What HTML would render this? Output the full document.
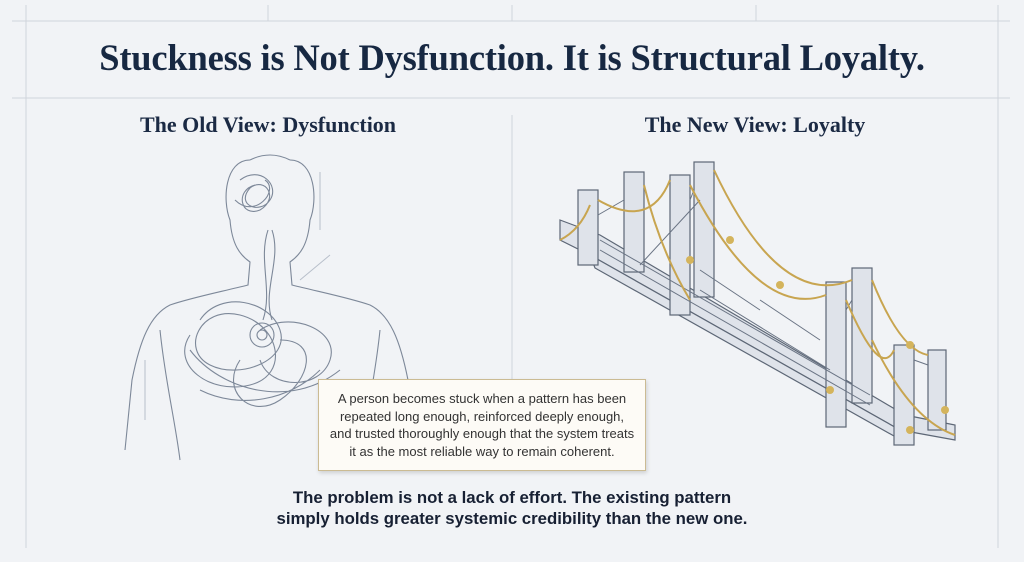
<!DOCTYPE html>
<html><head><meta charset="utf-8"><style>
body{margin:0;width:1024px;height:562px;background:#f1f3f6;position:relative;overflow:hidden;font-family:"Liberation Sans",sans-serif}
.t{position:absolute;left:0;width:1024px;text-align:center;color:#1b2a44}
h1{position:absolute;top:36px;left:0;width:1024px;margin:0;text-align:center;font:bold 36.5px "Liberation Serif",serif;color:#172842;letter-spacing:-0.2px}
.sub{position:absolute;top:112px;font:bold 22px "Liberation Serif",serif;color:#1b2a44;text-align:center;width:400px}
.box{position:absolute;left:318px;top:379px;width:328px;height:92px;background:#fdfbf6;border:1.5px solid #cbbb93;box-shadow:1px 2px 4px rgba(0,0,0,.15);font-size:13px;line-height:17.5px;color:#333;text-align:center;box-sizing:border-box;padding-top:10px}
.bot{top:487px;font-weight:bold;font-size:16.8px;line-height:21px;color:#172033}
</style></head><body>
<svg width="1024" height="562" style="position:absolute;left:0;top:0">
<g stroke="#cfd4dc" stroke-width="1" fill="none">
<line x1="12" y1="21" x2="1010" y2="21"/><line x1="12" y1="98" x2="1010" y2="98"/>
<line x1="26" y1="5" x2="26" y2="548"/><line x1="998" y1="5" x2="998" y2="548"/>
<line x1="268" y1="5" x2="268" y2="21"/><line x1="512" y1="5" x2="512" y2="21"/><line x1="756" y1="5" x2="756" y2="21"/>
<line x1="512" y1="115" x2="512" y2="380"/>
</g>
<g stroke="#7d8899" stroke-width="1.1" fill="none">
<path d="M250 160 C225 160 222 200 230 220 C232 245 240 255 250 262 L248 285 C220 292 190 298 170 305 C150 315 140 340 132 380 L125 450 M290 160 C315 160 318 200 310 220 C308 245 300 255 290 262 L292 285 C320 292 350 298 370 305 C390 315 400 340 408 380 L415 450"/>
<path d="M250 160 Q270 150 290 160"/>
<path d="M160 330 C165 380 175 420 180 460 M380 330 C375 380 365 420 360 460"/>
<path d="M240 180 c20 -15 40 5 30 20 c-10 15 -35 5 -20 -12 c15 -12 30 10 10 22 c-20 8 -25 -20 -5 -25 M235 200 c20 20 45 -10 30 -20"/>
<path d="M200 320 c20 -30 70 -20 80 10 c10 30 -40 50 -70 35 c-30 -15 -10 -60 30 -50 c40 10 50 60 10 70 c-40 10 -80 -20 -60 -50 M260 330 c30 -20 80 0 70 30 c-10 30 -60 30 -70 0 M240 360 c-20 30 10 60 40 40 c30 -20 40 -60 0 -60 M200 390 c40 20 90 10 120 -20 M190 350 c30 40 100 60 150 20"/>
<circle cx="262" cy="335" r="12"/><circle cx="262" cy="335" r="5"/>
<path d="M268 230 c-10 30 5 60 -5 90 M272 230 c10 30 -10 60 0 90"/>
</g>
<g stroke="#b8bfca" stroke-width="1" fill="none"><line x1="320" y1="172" x2="320" y2="230"/><line x1="145" y1="360" x2="145" y2="420"/><line x1="300" y1="280" x2="330" y2="255"/></g>
<g fill="#dfe3ea" stroke="#5d6776" stroke-width="1.2">
<polygon points="560,220 600,235 905,415 955,425 955,440 900,430 590,255 560,240"/>
<polygon points="590,255 900,430 910,445 595,268"/>
<rect x="578" y="190" width="20" height="75"/><rect x="624" y="172" width="20" height="100"/>
<rect x="670" y="175" width="20" height="140"/><rect x="694" y="162" width="20" height="135"/>
<rect x="826" y="282" width="20" height="145"/><rect x="852" y="268" width="20" height="135"/>
<rect x="894" y="345" width="20" height="100"/><rect x="928" y="350" width="18" height="80"/>
</g>
<g stroke="#6a7484" stroke-width="1" fill="none">
<path d="M600 240 L870 395 M600 250 L870 405 M640 265 L700 200 M700 270 L760 310 M760 300 L820 340 M700 290 L830 370"/>
<path d="M598 215 L624 200 M690 200 L694 190 M846 310 L852 300 M914 360 L928 365"/>
</g>
<g stroke="#c8a550" stroke-width="2" fill="none">
<path d="M598 200 Q650 230 670 180"/><path d="M714 170 Q780 310 852 280"/><path d="M690 185 Q760 320 826 295"/>
<path d="M872 280 Q900 350 928 355"/><path d="M846 300 Q880 380 894 350"/>
<path d="M560 240 Q580 230 590 205"/><path d="M644 185 Q660 250 690 300"/><path d="M872 340 Q910 420 955 435"/>
</g>
<g fill="#d4b45c"><circle cx="690" cy="260" r="4"/><circle cx="730" cy="240" r="4"/><circle cx="780" cy="285" r="4"/><circle cx="830" cy="390" r="4"/><circle cx="910" cy="345" r="4"/><circle cx="910" cy="430" r="4"/><circle cx="945" cy="410" r="4"/></g>
</svg>
<h1>Stuckness is Not Dysfunction. It is Structural Loyalty.</h1>
<div class="sub" style="left:68px">The Old View: Dysfunction</div>
<div class="sub" style="left:555px">The New View: Loyalty</div>
<div class="box">A person becomes stuck when a pattern has been<br>repeated long enough, reinforced deeply enough,<br>and trusted thoroughly enough that the system treats<br>it as the most reliable way to remain coherent.</div>
<div class="t bot">The problem is not a lack of effort. The existing pattern<br>simply holds greater systemic credibility than the new one.</div>
</body></html>
